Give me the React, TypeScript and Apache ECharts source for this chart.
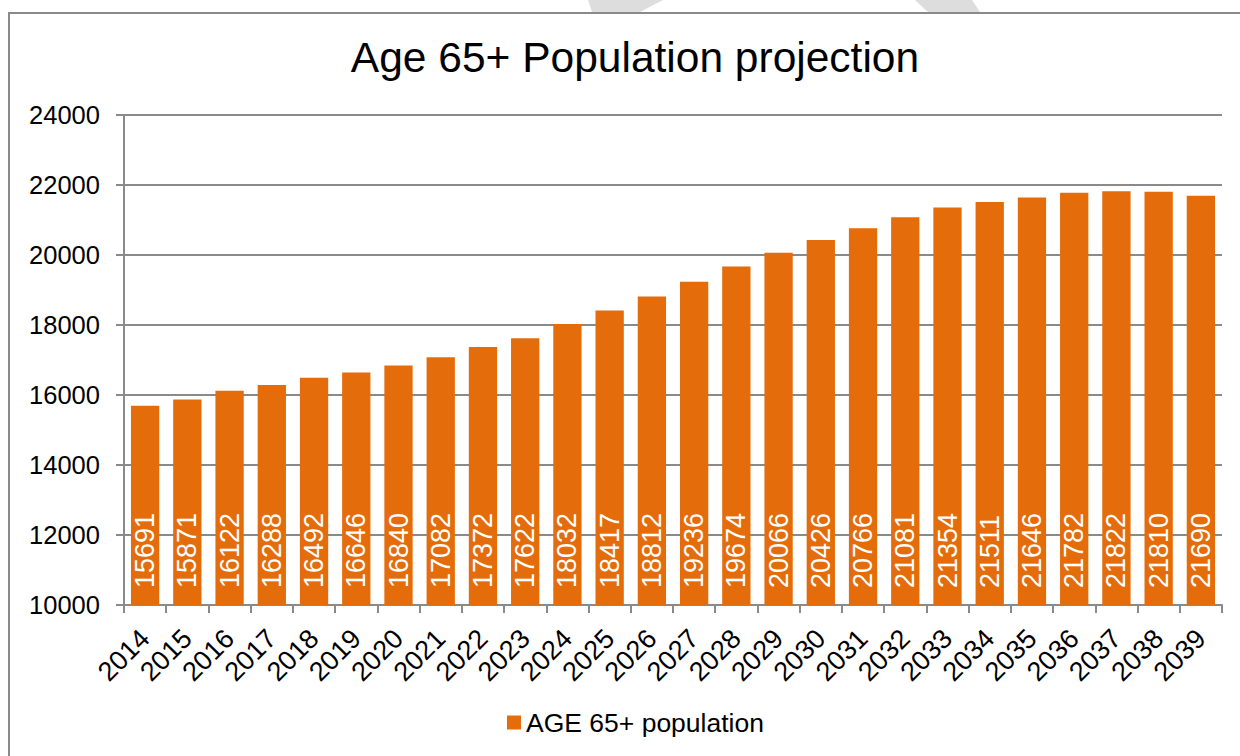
import React, { useEffect, useRef } from "react";
import * as echarts from "echarts";

const years = [
  "2014", "2015", "2016", "2017", "2018", "2019", "2020", "2021", "2022", "2023",
  "2024", "2025", "2026", "2027", "2028", "2029", "2030", "2031", "2032", "2033",
  "2034", "2035", "2036", "2037", "2038", "2039",
];
const population = [
  15691, 15871, 16122, 16288, 16492, 16646, 16840, 17082, 17372, 17622,
  18032, 18417, 18812, 19236, 19674, 20066, 20426, 20766, 21081, 21354,
  21511, 21646, 21782, 21822, 21810, 21690,
];
const seriesName = "AGE 65+ population";
const titleText = "Age 65+ Population projection";

const FONT = "'Liberation Sans', Arial, sans-serif";

export default function App() {
  const ref = useRef<HTMLDivElement>(null);
  useEffect(() => {
    if (!ref.current) return;
    const chart = echarts.init(ref.current, undefined, { renderer: "svg" });
    chart.setOption({
      animation: false,
      backgroundColor: "#ffffff",
      textStyle: { fontFamily: FONT },
      title: {
        text: titleText,
        left: 630,
        top: 31,
        textAlign: "center",
        textStyle: { fontSize: 42.5, fontWeight: "normal", color: "#000", fontFamily: FONT },
      },
      graphic: [
        {
          type: "rect",
          shape: { x: 9, y: 13, width: 1260, height: 780 },
          style: { fill: "none", stroke: "#8a8a8a", lineWidth: 2 },
          z: 100,
        },
        {
          type: "polygon",
          shape: { points: [[588, 0], [663, 0], [640, 12], [592, 12]] },
          style: { fill: "#dddddd" },
        },
        {
          type: "polygon",
          shape: { points: [[915, 0], [972, 0], [980, 12], [928, 12]] },
          style: { fill: "#dddddd" },
        },
      ],
      legend: {
        data: [seriesName],
        left: 502,
        top: 704,
        icon: "rect",
        itemWidth: 14,
        itemHeight: 14,
        itemGap: 6,
        textStyle: { fontSize: 26.5, color: "#000", fontFamily: FONT },
      },
      grid: { left: 124, right: 18, top: 115, bottom: 151 },
      xAxis: {
        type: "category",
        data: years,
        axisLine: { lineStyle: { color: "#8a8a8a", width: 2 } },
        axisTick: { show: true, length: 8, lineStyle: { color: "#8a8a8a", width: 2 } },
        axisLabel: { rotate: 45, fontSize: 27, color: "#000", margin: 29, interval: 0, fontFamily: FONT },
      },
      yAxis: {
        type: "value",
        min: 10000,
        max: 24000,
        interval: 2000,
        axisLine: { show: true, lineStyle: { color: "#8a8a8a", width: 2 } },
        axisTick: { show: true, length: 8, lineStyle: { color: "#8a8a8a", width: 2 } },
        axisLabel: {
          fontSize: 25.5,
          color: "#000",
          margin: 24,
          fontFamily: FONT,
          formatter: (v: number) => String(v),
        },
        splitLine: { lineStyle: { color: "#8a8a8a", width: 2 } },
      },
      series: [
        {
          name: seriesName,
          type: "bar",
          data: population,
          barCategoryGap: "33%",
          itemStyle: { color: "#E46C0A" },
          label: {
            show: true,
            position: "insideBottom",
            rotate: 90,
            align: "left",
            verticalAlign: "middle",
            distance: 17,
            color: "#ffffff",
            fontSize: 27,
            fontFamily: FONT,
          },
        },
      ],
    });
    return () => chart.dispose();
  }, []);
  return (
    <div
      ref={ref}
      style={{ position: "fixed", left: 0, top: 0, width: 1240, height: 756 }}
    />
  );
}
